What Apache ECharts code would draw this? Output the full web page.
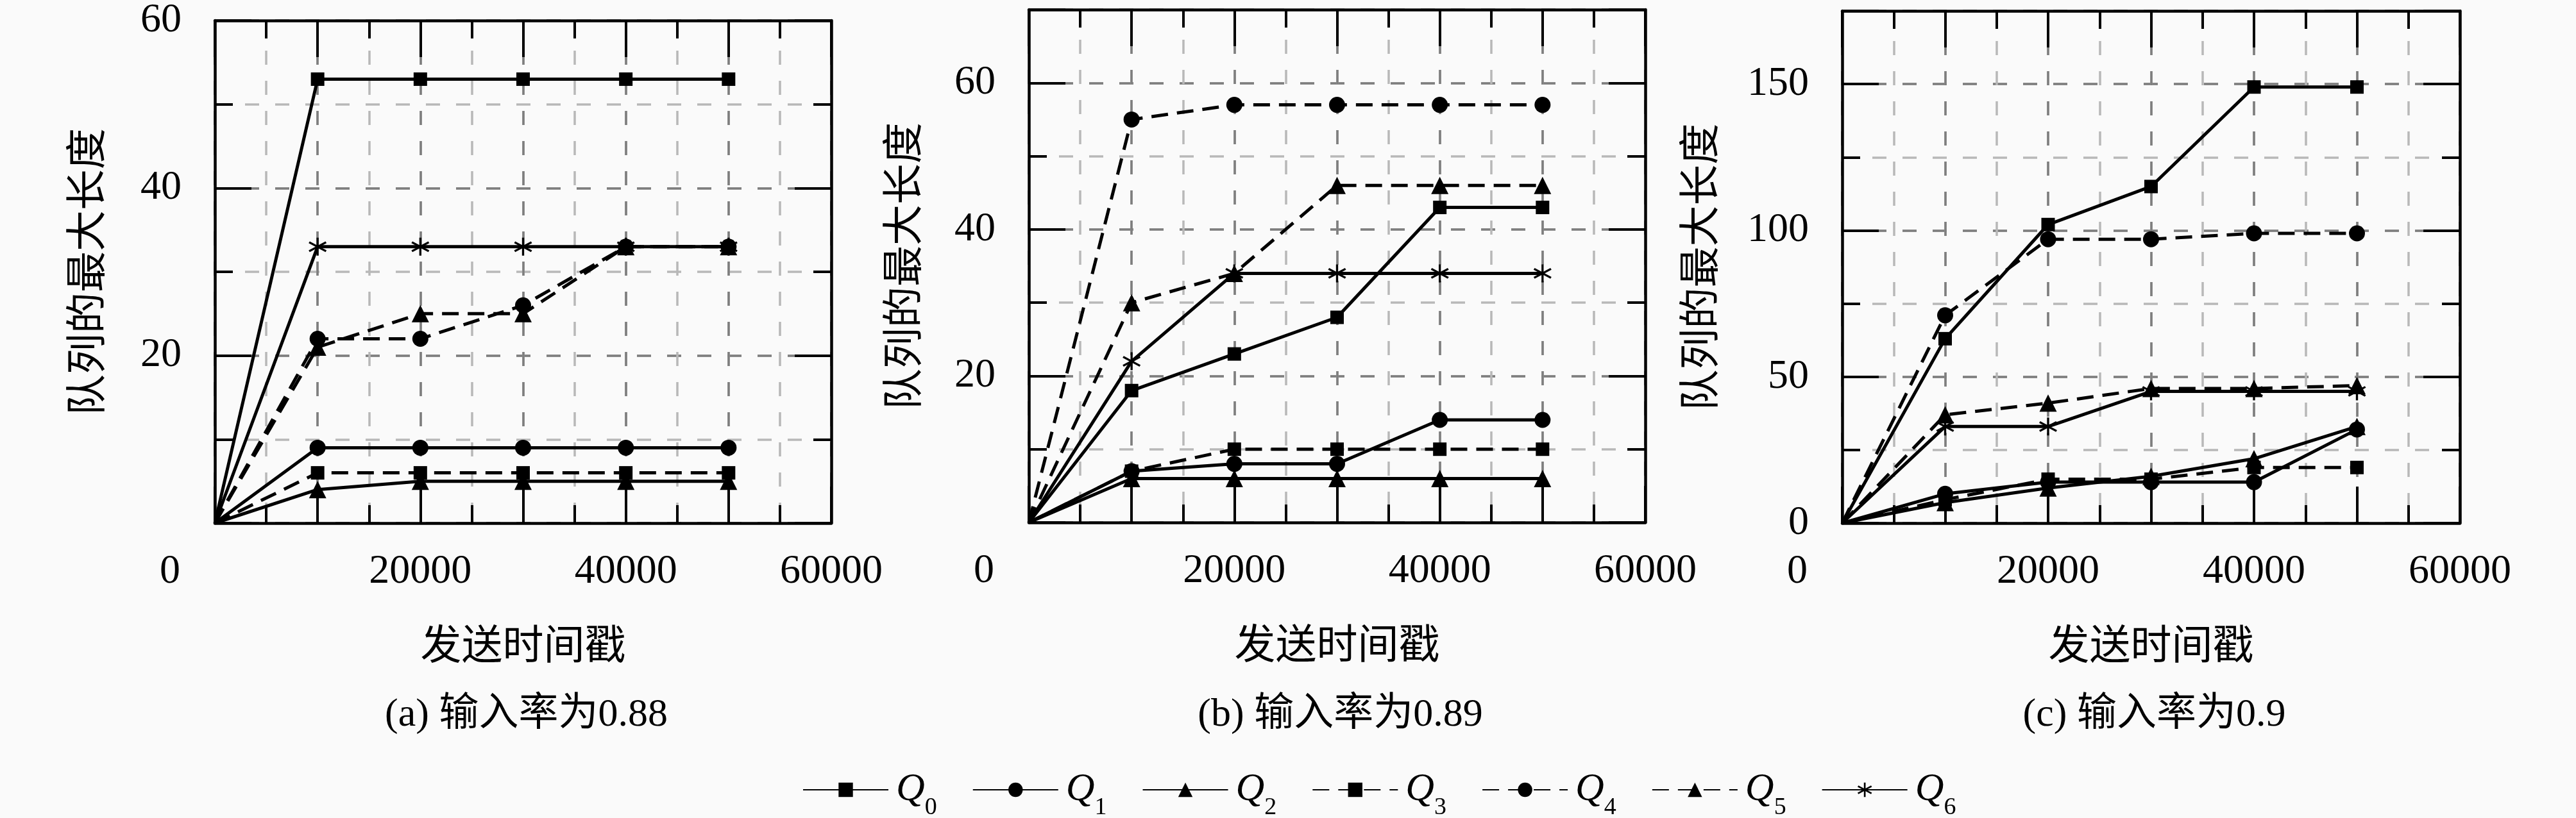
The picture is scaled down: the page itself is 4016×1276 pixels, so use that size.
<!DOCTYPE html>
<html>
<head>
<meta charset="utf-8">
<title>队列的最大长度</title>
<script src="https://cdn.jsdelivr.net/npm/echarts@6/dist/echarts.min.js"></script>
<style>
  html, body { margin: 0; padding: 0; background: #fafafa; }
  #chart { width: 4016px; height: 1276px; }
</style>
</head>
<body>
<div id="chart"></div>
<script>
// x positions shared by every series
const X_VALUES = [0, 10000, 20000, 30000, 40000, 50000];
const X_LABELS = [0, 20000, 40000, 60000];
const NAMES = ['Q0', 'Q1', 'Q2', 'Q3', 'Q4', 'Q5', 'Q6'];

// (a) 输入率为0.88
const A_Q0 = [0, 53, 53, 53, 53, 53];
const A_Q1 = [0, 9, 9, 9, 9, 9];
const A_Q2 = [0, 4, 5, 5, 5, 5];
const A_Q3 = [0, 6, 6, 6, 6, 6];
const A_Q4 = [0, 22, 22, 26, 33, 33];
const A_Q5 = [0, 21, 25, 25, 33, 33];
const A_Q6 = [0, 33, 33, 33, 33, 33];
const A_Y_LABELS = [20, 40, 60];

// (b) 输入率为0.89
const B_Q0 = [0, 18, 23, 28, 43, 43];
const B_Q1 = [0, 7, 8, 8, 14, 14];
const B_Q2 = [0, 6, 6, 6, 6, 6];
const B_Q3 = [0, 7, 10, 10, 10, 10];
const B_Q4 = [0, 55, 57, 57, 57, 57];
const B_Q5 = [0, 30, 34, 46, 46, 46];
const B_Q6 = [0, 22, 34, 34, 34, 34];
const B_Y_LABELS = [20, 40, 60];

// (c) 输入率为0.9
const C_Q0 = [0, 63, 102, 115, 149, 149];
const C_Q1 = [0, 10, 14, 14, 14, 32];
const C_Q2 = [0, 7, 12, 16, 22, 33];
const C_Q3 = [0, 8, 15, 15, 19, 19];
const C_Q4 = [0, 71, 97, 97, 99, 99];
const C_Q5 = [0, 37, 41, 46, 46, 47];
const C_Q6 = [0, 33, 33, 45, 45, 45];
const C_Y_LABELS = [0, 50, 100, 150];

const SERIF = 'Liberation Serif, DejaVu Serif, serif';
const CJK = 'Noto Sans CJK SC, sans-serif';
const MIXED = 'Liberation Serif, Noto Sans CJK SC, serif';

const STAR = 'path://M-0.11 -1L0.11 -1L0.11 1L-0.11 1Z' +
  'M0.811 0.595L-0.921 -0.405L-0.811 -0.595L0.921 0.405Z' +
  'M0.921 -0.405L-0.811 0.595L-0.921 0.405L0.811 -0.595Z';
const SYMBOLS = ['rect', 'circle', 'triangle', 'rect', 'circle', 'triangle', STAR];
const SYMBOL_SIZES = [21, 25, 27, 21, 25, 27, 28];
const DASHED = [false, false, false, true, true, true, false];

const panels = [
  { data: [A_Q0, A_Q1, A_Q2, A_Q3, A_Q4, A_Q5, A_Q6], yLabels: A_Y_LABELS,
    yMax: 60, yMinor: 10, yMajor: 20, nameGap: 170,
    box: { left: 335, top: 15, width: 961, height: 801 }, title: '(a) 输入率为0.88' },
  { data: [B_Q0, B_Q1, B_Q2, B_Q3, B_Q4, B_Q5, B_Q6], yLabels: B_Y_LABELS,
    yMax: 70, yMinor: 10, yMajor: 20, nameGap: 166,
    box: { left: 1604, top: 15, width: 961, height: 800 }, title: '(b) 输入率为0.89' },
  { data: [C_Q0, C_Q1, C_Q2, C_Q3, C_Q4, C_Q5, C_Q6], yLabels: C_Y_LABELS,
    yMax: 175, yMinor: 25, yMajor: 50, nameGap: 192,
    box: { left: 2872, top: 17, width: 963, height: 799 }, title: '(c) 输入率为0.9' }
];

const AXIS_LINE = { show: true, onZero: false, lineStyle: { color: '#000', width: 4.5 } };
const NO_LINE = { show: false, onZero: false };
function tick(len) {
  return { show: true, inside: true, length: len, lineStyle: { color: '#000', width: 4 } };
}
function gridLine(color) {
  return { show: true, lineStyle: { color: color, width: 3.5, type: [22, 25] } };
}
const NONE = { show: false };

const xAxes = [];
const yAxes = [];
const series = [];

panels.forEach(function (p, i) {
  const xBase = { gridIndex: i, type: 'value', min: 0, max: 60000,
    axisLabel: NONE, splitLine: NONE, axisLine: NO_LINE, axisTick: NONE };
  xAxes.push(
    Object.assign({}, xBase, { position: 'bottom', interval: 5000, axisLine: AXIS_LINE,
      axisTick: tick(28), splitLine: gridLine('#b8b8b8') }),
    Object.assign({}, xBase, { position: 'bottom', interval: 10000, axisTick: tick(57),
      splitLine: gridLine('#7e7e7e'),
      axisLabel: { show: true, margin: 44, fontSize: 64, fontFamily: SERIF, color: '#000',
        formatter: function (v) {
          if (X_LABELS.indexOf(v) < 0) return '';
          return v === 0 ? '{z|0}' : String(v);
        },
        rich: { z: { fontSize: 64, fontFamily: SERIF, color: '#000', padding: [0, 140, 0, 0] } } },
      name: '发送时间戳', nameLocation: 'middle', nameGap: 156,
      nameTextStyle: { fontSize: 64, fontFamily: CJK, color: '#000' } }),
    Object.assign({}, xBase, { position: 'top', interval: 5000, axisLine: AXIS_LINE, axisTick: tick(28) }),
    Object.assign({}, xBase, { position: 'top', interval: 10000, axisTick: tick(57) })
  );

  const yBase = { gridIndex: i, type: 'value', min: 0, max: p.yMax,
    axisLabel: NONE, splitLine: NONE, axisLine: NO_LINE, axisTick: NONE };
  yAxes.push(
    Object.assign({}, yBase, { position: 'left', interval: p.yMinor, axisLine: AXIS_LINE,
      axisTick: tick(28), splitLine: gridLine('#b8b8b8') }),
    Object.assign({}, yBase, { position: 'left', interval: p.yMajor, axisTick: tick(57),
      splitLine: gridLine('#7e7e7e'),
      axisLabel: { show: true, margin: 52, fontSize: 64, fontFamily: SERIF, color: '#000',
        padding: [20, 0, 0, 0],
        formatter: function (v) { return p.yLabels.indexOf(v) < 0 ? '' : String(v); } },
      name: '队列的最大长度', nameLocation: 'middle', nameRotate: 90, nameGap: p.nameGap,
      nameTextStyle: { fontSize: 64, fontFamily: CJK, color: '#000' } }),
    Object.assign({}, yBase, { position: 'right', interval: p.yMinor, axisLine: AXIS_LINE, axisTick: tick(28) }),
    Object.assign({}, yBase, { position: 'right', interval: p.yMajor, axisTick: tick(57) })
  );

  p.data.forEach(function (values, k) {
    series.push({
      name: NAMES[k],
      type: 'line',
      xAxisIndex: i * 4 + 1,
      yAxisIndex: i * 4 + 1,
      symbol: SYMBOLS[k],
      symbolSize: SYMBOL_SIZES[k],
      showAllSymbol: true,
      itemStyle: { color: '#000' },
      lineStyle: { color: '#000', width: 5, type: DASHED[k] ? [26, 14] : 'solid' },
      data: X_VALUES.map(function (x, j) {
        return j === 0 ? { value: [x, values[j]], symbol: 'none' } : [x, values[j]];
      })
    });
  });
});

const chart = echarts.init(document.getElementById('chart'));
chart.setOption({
  animation: false,
  backgroundColor: '#fafafa',
  title: panels.map(function (p) {
    return {
      text: p.title,
      left: p.box.left + p.box.width / 2,
      textAlign: 'center',
      top: 1080,
      textStyle: { fontSize: 62, fontWeight: 'normal', fontFamily: MIXED, color: '#000' }
    };
  }),
  grid: panels.map(function (p) { return Object.assign({ containLabel: false }, p.box); }),
  legend: {
    data: NAMES,
    left: 1246,
    top: 1196,
    itemWidth: 133,
    itemHeight: 28,
    itemGap: 55,
    formatter: function (name) { return '{q|Q}{s|' + name.slice(1) + '}'; },
    textStyle: {
      color: '#000',
      rich: {
        q: { fontSize: 62, lineHeight: 62, fontStyle: 'italic', fontFamily: SERIF,
          color: '#000', verticalAlign: 'top', padding: [0, 0, 0, 7] },
        s: { fontSize: 38, lineHeight: 38, fontFamily: SERIF, color: '#000',
          verticalAlign: 'top', padding: [40, 0, 0, 0] }
      }
    }
  },
  xAxis: xAxes,
  yAxis: yAxes,
  series: series
});
</script>
</body>
</html>
